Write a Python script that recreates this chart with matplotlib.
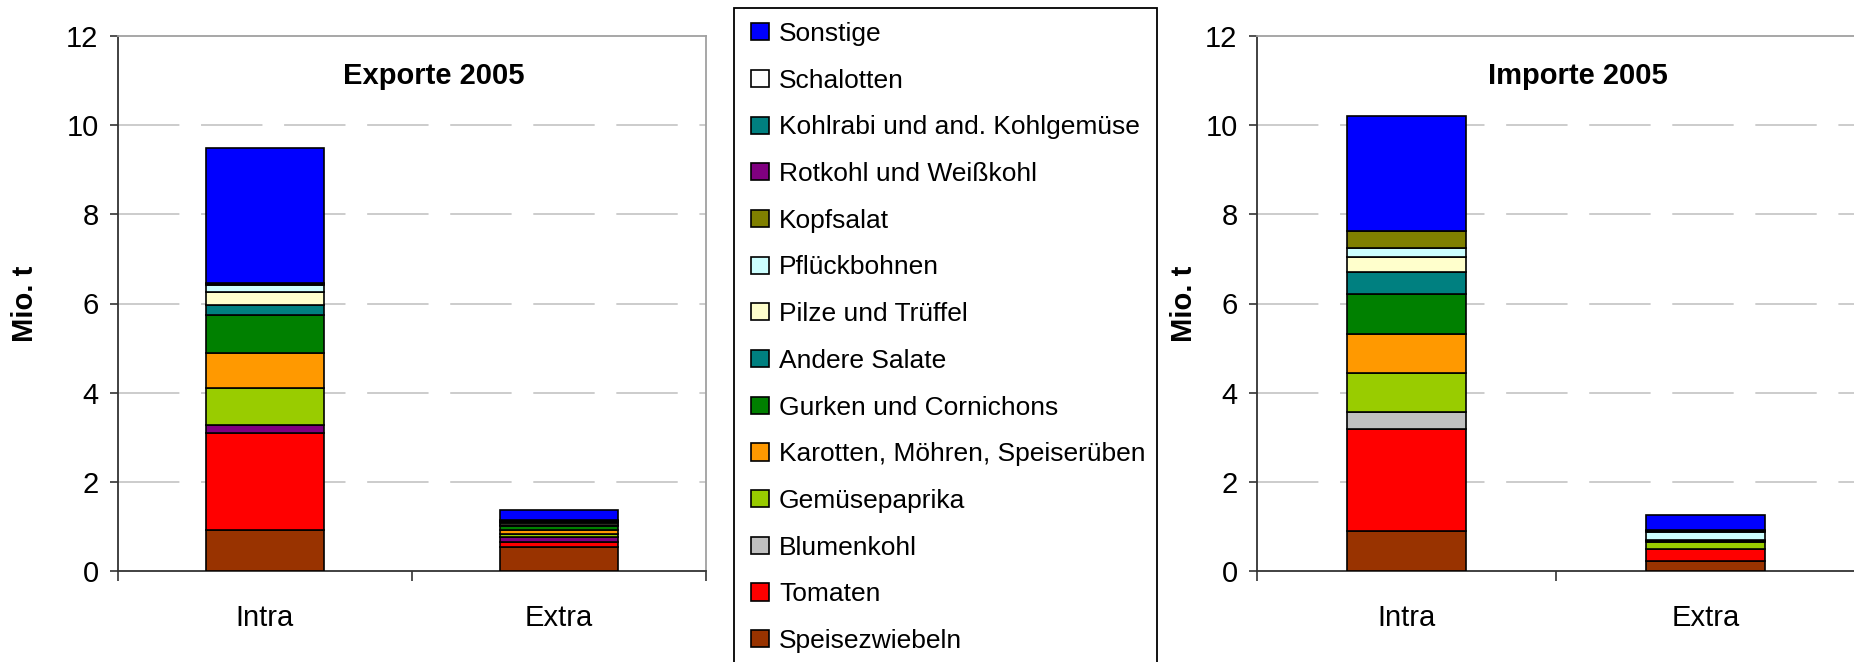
import matplotlib
matplotlib.use("Agg")
import matplotlib.pyplot as plt
from matplotlib.patches import Patch, Rectangle

plt.rcParams['font.family'] = ['Liberation Sans', 'DejaVu Sans']

# series in stacking order (bottom to top)
categories = ["Speisezwiebeln", "Tomaten", "Blumenkohl", "Gemüsepaprika",
              "Karotten, Möhren, Speiserüben", "Gurken und Cornichons",
              "Andere Salate", "Pilze und Trüffel", "Pflückbohnen", "Kopfsalat",
              "Rotkohl und Weißkohl", "Kohlrabi und and. Kohlgemüse",
              "Schalotten", "Sonstige"]
colors = ["#993300", "#FF0000", "#C0C0C0", "#99CC00", "#FF9900", "#008000",
          "#008080", "#FFFFCC", "#CCFFFF", "#808000", "#800080", "#008080",
          "#FFFFFF", "#0000FF"]

groups = ["Intra", "Extra"]

# Mio. t
exp_intra = [0.91, 2.19, 0.00, 0.83, 0.79, 0.86, 0.21, 0.29, 0.17, 0.02, 0.17, 0.02, 0.00, 3.03]
exp_extra = [0.54, 0.11, 0.01, 0.07, 0.09, 0.09, 0.02, 0.03, 0.02, 0.02, 0.12, 0.02, 0.01, 0.21]
imp_intra = [0.90, 2.28, 0.39, 0.86, 0.88, 0.91, 0.49, 0.33, 0.21, 0.37, 0.00, 0.00, 0.00, 2.58]
imp_extra = [0.22, 0.27, 0.00, 0.17, 0.01, 0.01, 0.01, 0.00, 0.19, 0.01, 0.01, 0.01, 0.00, 0.34]

# the export chart stacks Rotkohl where the import chart has Blumenkohl
exp_order = [0, 1, 10, 3, 4, 5, 6, 7, 8, 9, 2, 11, 12, 13]
imp_order = list(range(len(categories)))

W, H = 1854, 662
fig = plt.figure(figsize=(W / 100, H / 100), dpi=100)


def draw(rect, intra, extra, order, title, ylab_x):
    ax = fig.add_axes(rect)
    bottoms = [0.0, 0.0]
    for i in order:
        hs = [intra[i], extra[i]]
        for j in range(2):
            if hs[j] > 0:
                ax.bar(j, hs[j], 0.4, bottom=bottoms[j], color=colors[i],
                       edgecolor='black', linewidth=1.2, zorder=3)
            bottoms[j] += hs[j]
    ax.set_xlim(-0.5, 1.5)
    ax.set_ylim(0, 12)
    ax.set_yticks(range(0, 13, 2))
    ax.set_xticks([0, 1])
    ax.set_xticklabels(groups)
    ax.set_xticks([-0.5, 0.5, 1.5], minor=True)
    ax.tick_params(axis='x', which='major', length=0, pad=24, labelsize=21)
    ax.tick_params(axis='x', which='minor', length=7, width=1.2, color='#333333')
    ax.tick_params(axis='y', length=6, width=1.2, color='#333333', pad=8, labelsize=21)
    for y in range(2, 12, 2):
        ax.axhline(y, color='#C8C8C8', lw=1.3, ls=(0, (34, 12)), zorder=1)
    for s in ['left', 'bottom']:
        ax.spines[s].set_color('#333333')
        ax.spines[s].set_linewidth(1.3)
    for s in ['top', 'right']:
        ax.spines[s].set_color('#A0A0A0')
        ax.spines[s].set_linewidth(1.3)
    ax.text(0.537, 0.925, title, transform=ax.transAxes, ha='center', va='center',
            fontsize=21, fontweight='bold')
    ax.set_ylabel('Mio. t', fontsize=21, fontweight='bold')
    ax.yaxis.set_label_coords(ylab_x, 0.5)
    ax.yaxis.label.set_va('center')
    return ax


ax1 = draw([118 / W, 1 - 571 / H, 588 / W, 535 / H], exp_intra, exp_extra,
           exp_order, "Exporte 2005", -0.158)
ax2 = draw([1257 / W, 1 - 571 / H, 598 / W, 535 / H], imp_intra, imp_extra,
           imp_order, "Importe 2005", -0.122)

# shared legend, top entry = last series
handles = [Patch(facecolor=colors[i], edgecolor='black', linewidth=1.2)
           for i in reversed(range(len(categories)))]
labels = [categories[i] for i in reversed(range(len(categories)))]
fig.legend(handles, labels, loc='upper left', bbox_to_anchor=(751 / W, 1 - 22 / H),
           frameon=False, fontsize=19, borderpad=0, borderaxespad=0,
           labelspacing=0.86, handlelength=0.68, handleheight=0.62, handletextpad=0.38)
fig.add_artist(Rectangle((734 / W, -0.05), 423 / W, 1.05 - 8 / H, transform=fig.transFigure,
                         fill=False, edgecolor='black', linewidth=1.3))

fig.savefig('out.png', dpi=100)
